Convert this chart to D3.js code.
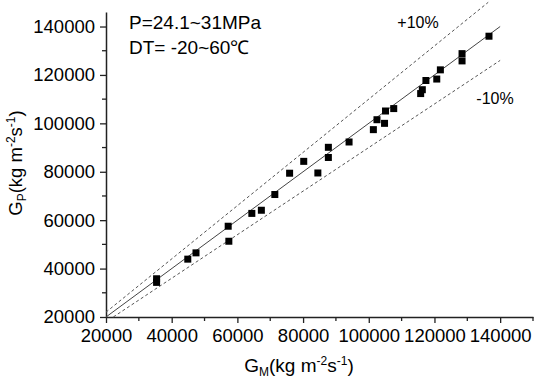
<!DOCTYPE html>
<html>
<head>
<meta charset="utf-8">
<script src="https://cdn.jsdelivr.net/npm/d3@7"></script>
<style>
  html, body { margin: 0; padding: 0; background: #fff; }
  svg text { font-family: Arial, "Liberation Sans", sans-serif; fill: #000; }
</style>
</head>
<body>
<svg id="chart"></svg>
<script>
"use strict";

// ---- data ----
const gm = [136600, 128400, 128400, 121800, 120700, 117400, 116300, 115800, 107600, 105100,
            104800, 102500, 101400, 94000, 87700, 87700, 84500, 80200, 75900, 71400,
            67300, 64400, 57200, 57400, 47400, 44900, 35400, 35400];
const gp = [136000, 128800, 125800, 122100, 118300, 117700, 113900, 112300, 106100, 105100,
            100000, 101500, 97400, 92300, 90100, 85900, 79500, 84300, 79400, 70600,
            64100, 62800, 57500, 51300, 46500, 43900, 35800, 34300];

// reference lines: y = k * x, drawn between two x values
const refFactor = [1, 1.1, 0.9];
const refStart  = [20000, 20000, 22222];
const refEnd    = [140000, 136364, 140000];
const refLabel  = ["", "+10%", "-10%"];

const xTicks = [20000, 40000, 60000, 80000, 100000, 120000, 140000];
const yTicks = [20000, 40000, 60000, 80000, 100000, 120000, 140000];

// ---- layout ----
const W = 536, H = 382;
const svg = d3.select("#chart").attr("width", W).attr("height", H);

const x = d3.scaleLinear().domain([20000, 150000]).range([106, 533]);
const y = d3.scaleLinear().domain([20000, 146000]).range([317, 12]);

// minor ticks (every 10000)
const xMinor = d3.range(30000, 150001, 20000);
const yMinor = d3.range(30000, 140001, 20000);

// ---- axes ----
const axisColor = "#222";

const gx = svg.append("g").attr("transform", "translate(0,317)")
  .call(d3.axisBottom(x).tickValues(xTicks).tickSize(6).tickPadding(6).tickSizeOuter(0)
        .tickFormat(d3.format("d")));
gx.append("g").selectAll("line").data(xMinor).join("line")
  .attr("x1", d => x(d)).attr("x2", d => x(d)).attr("y1", 0).attr("y2", 4)
  .attr("stroke", axisColor).attr("stroke-width", 1.3);

const gy = svg.append("g").attr("transform", "translate(106,0)")
  .call(d3.axisLeft(y).tickValues(yTicks).tickSize(6).tickPadding(5).tickSizeOuter(0)
        .tickFormat(d3.format("d")));
gy.append("g").selectAll("line").data(yMinor).join("line")
  .attr("y1", d => y(d)).attr("y2", d => y(d)).attr("x1", 0).attr("x2", -4)
  .attr("stroke", axisColor).attr("stroke-width", 1.3);

[gx, gy].forEach(g => {
  g.select(".domain").attr("stroke", axisColor).attr("stroke-width", 1.5);
  g.selectAll(".tick line").attr("stroke", axisColor).attr("stroke-width", 1.3);
  g.selectAll(".tick text").style("font-size", "18.5px").attr("fill", "#000");
});

// ---- reference lines ----
refFactor.forEach((k, i) => {
  svg.append("line")
    .attr("x1", x(refStart[i])).attr("y1", y(refStart[i] * k))
    .attr("x2", x(refEnd[i])).attr("y2", y(refEnd[i] * k))
    .attr("stroke", i === 0 ? "#444" : "#555")
    .attr("stroke-width", 1)
    .attr("stroke-dasharray", i === 0 ? null : "3,2.5");
});

svg.append("text").attr("x", 418).attr("y", 28).attr("text-anchor", "middle")
  .style("font-size", "16px").text(refLabel[1]);
svg.append("text").attr("x", 495).attr("y", 104).attr("text-anchor", "middle")
  .style("font-size", "16px").text(refLabel[2]);

// ---- points ----
const sq = 7;
svg.append("g").selectAll("rect").data(gm).join("rect")
  .attr("x", (d, i) => x(d) - sq / 2)
  .attr("y", (d, i) => y(gp[i]) - sq / 2)
  .attr("width", sq).attr("height", sq)
  .attr("fill", "#000");

// ---- annotation ----
svg.append("text").attr("x", 129).attr("y", 28.5).style("font-size", "19px").text("P=24.1~31MPa");
svg.append("text").attr("x", 129).attr("y", 53.5).style("font-size", "19px").text("DT= -20~60\u2103");

// ---- axis titles ----
function unitTitle(sel, sub) {
  sel.append("tspan").text("G");
  sel.append("tspan").attr("dy", 4).style("font-size", "12px").text(sub);
  sel.append("tspan").attr("dy", -4).text("(kg m");
  sel.append("tspan").attr("dy", -7).style("font-size", "12px").text("-2");
  sel.append("tspan").attr("dy", 7).text("s");
  sel.append("tspan").attr("dy", -7).style("font-size", "12px").text("-1");
  sel.append("tspan").attr("dy", 7).text(")");
}

const xt = svg.append("text").attr("x", 299).attr("y", 372)
  .attr("text-anchor", "middle").style("font-size", "19px");
unitTitle(xt, "M");

const yt = svg.append("text").attr("transform", "translate(22,163) rotate(-90)")
  .attr("text-anchor", "middle").style("font-size", "18.5px");
unitTitle(yt, "P");
</script>
</body>
</html>
